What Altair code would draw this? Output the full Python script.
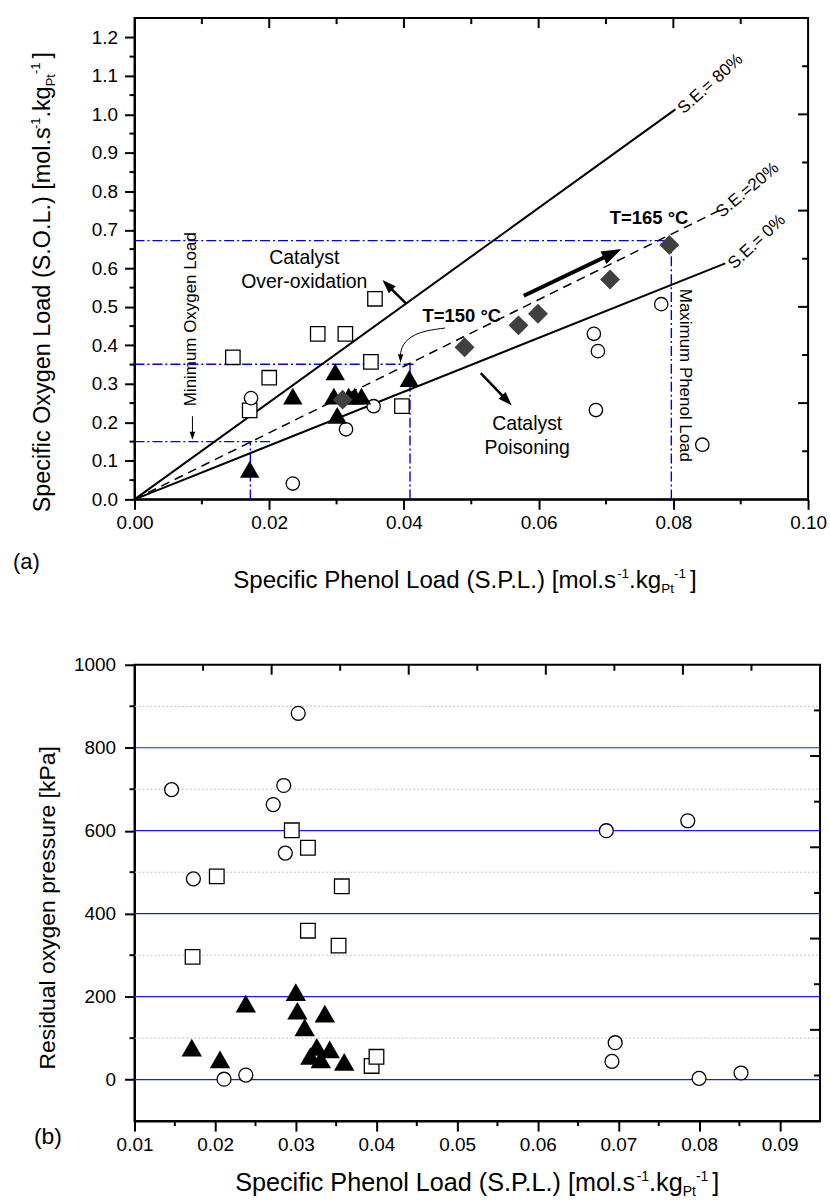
import math
import altair as alt
import pandas as pd

FONT = "Liberation Sans"

# ======================= panel (a) data =======================
a_xticks = [0.00, 0.02, 0.04, 0.06, 0.08, 0.10]
a_yticks = [0.0, 0.1, 0.2, 0.3, 0.4, 0.5, 0.6, 0.7, 0.8, 0.9, 1.0, 1.1, 1.2]
a_xminor = [0.01, 0.03, 0.05, 0.07, 0.09]
a_yminor = [0.05, 0.15, 0.25, 0.35, 0.45, 0.55, 0.65, 0.75, 0.85, 0.95, 1.05, 1.15]
a_top_long = [0.02, 0.04, 0.06, 0.08]
a_top_short = [0.01, 0.03, 0.05, 0.07, 0.09]
a_right_long = [0.25, 0.50, 0.75, 1.00]
a_right_short = [0.125, 0.375, 0.625, 0.875, 1.125]

a_sq_x = [0.0146, 0.0200, 0.0171, 0.0272, 0.0313, 0.0357, 0.0351, 0.0397]
a_sq_y = [0.369, 0.316, 0.231, 0.430, 0.430, 0.521, 0.357, 0.242]
a_ci_x = [0.0173, 0.0314, 0.0355, 0.0235, 0.0782, 0.0682, 0.0688, 0.0685, 0.0843]
a_ci_y = [0.263, 0.182, 0.242, 0.041, 0.507, 0.430, 0.385, 0.232, 0.142]
a_tr_x = [0.0171, 0.0235, 0.0298, 0.0296, 0.0318, 0.0327, 0.0337, 0.0301, 0.0408]
a_tr_y = [0.078, 0.268, 0.331, 0.268, 0.268, 0.268, 0.268, 0.218, 0.314]
a_di_x = [0.0309, 0.0490, 0.0570, 0.0599, 0.0706, 0.0794]
a_di_y = [0.259, 0.395, 0.452, 0.482, 0.571, 0.661]

# selectivity lines (origin -> end)
se_solid_name = ["80", "80", "0", "0"]
se_solid_x = [0.0, 0.0803, 0.0, 0.0877]
se_solid_y = [0.0, 1.013, 0.0, 0.613]
se20_x = [0.0, 0.0870]
se20_y = [0.0, 0.752]

# blue dash-dot guide lines
g_x1 = [0.0, 0.0, 0.0, 0.0797, 0.0409, 0.0172]
g_y1 = [0.672, 0.351, 0.150, 0.0, 0.0, 0.0]
g_x2 = [0.0797, 0.0417, 0.0205, 0.0797, 0.0409, 0.0172]
g_y2 = [0.672, 0.351, 0.150, 0.672, 0.351, 0.150]

# straight arrows (tail -> head)
arr_x1 = [0.0404, 0.0514, 0.0578, 0.0086]
arr_y1 = [0.507, 0.328, 0.529, 0.216]
arr_x2 = [0.0368, 0.0560, 0.0723, 0.0086]
arr_y2 = [0.570, 0.244, 0.650, 0.155]
# curved arrow (T=150 -> guide)
curve_x = [0.0461, 0.0422, 0.0400, 0.0394, 0.0395]
curve_y = [0.445, 0.436, 0.410, 0.380, 0.356]

ann_txt = ["Catalyst", "Over-oxidation", "Catalyst", "Poisoning"]
ann_x = [0.0252, 0.0252, 0.0583, 0.0583]
ann_y = [0.626, 0.565, 0.196, 0.134]
temp_txt = ["T=150 °C", "T=165 °C"]
temp_x = [0.0486, 0.0764]
temp_y = [0.477, 0.730]
se_lbl = ["S.E.= 80%", "S.E.=20%", "S.E.= 0%"]
se_lbl_x = [0.0855, 0.0910, 0.0924]
se_lbl_y = [1.079, 0.803, 0.669]
side_lbl = ["Maximum Phenol Load", "Minimum Oxygen Load"]
side_x = [0.0817, 0.0084]
side_y = [0.322, 0.468]

# ======================= panel (b) data =======================
b_xticks = [0.01, 0.02, 0.03, 0.04, 0.05, 0.06, 0.07, 0.08, 0.09]
b_yticks = [0, 200, 400, 600, 800, 1000]
b_xminor = [0.015, 0.025, 0.035, 0.045, 0.055, 0.065, 0.075, 0.085]
b_yminor = [100, 300, 500, 700, 900]
b_grid_major = [0, 200, 400, 600, 800]
b_grid_minor = [100, 300, 500, 700, 900]

b_ci_x = [0.0146, 0.0173, 0.0272, 0.0285, 0.0287, 0.0303, 0.0685, 0.0786,
          0.0211, 0.0238, 0.0692, 0.0696, 0.0800, 0.0852]
b_ci_y = [699, 484, 663, 709, 546, 883, 600, 624, 1, 11, 44, 89, 3, 16]
b_sq_x = [0.0295, 0.0315, 0.0202, 0.0357, 0.0315, 0.0353, 0.0172, 0.0394, 0.0400]
b_sq_y = [601, 559, 490, 466, 359, 323, 296, 33, 55]
b_tr_x = [0.0171, 0.0206, 0.0238, 0.0300, 0.0302, 0.0336, 0.0311, 0.0326,
          0.0318, 0.0331, 0.0342, 0.0360]
b_tr_y = [77, 49, 183, 211, 166, 159, 126, 79, 57, 49, 73, 43]

# ======================= helpers =======================
W_A, H_A = 676, 483
W_B, H_B = 688, 458
XA_DOM, YA_DOM = [0.0, 0.1], [0.0, 1.25]
XB_DOM, YB_DOM = [0.01, 0.095], [-100, 1000]

ARIAL = {' ': 278, '(': 333, ')': 333, '[': 278, ']': 278, '.': 278, '-': 333,
         'S': 667, 'P': 667, 'L': 556, 'O': 778, 'E': 667, 'T': 611, 'C': 722,
         'M': 833, 'R': 722, 'a': 556, 'c': 500, 'd': 556, 'e': 556, 'f': 278,
         'g': 556, 'h': 556, 'i': 222, 'k': 500, 'l': 222, 'm': 833, 'n': 556,
         'o': 556, 'p': 556, 'r': 333, 's': 500, 't': 278, 'u': 556, 'x': 500,
         'y': 500}


def tw(s, fs):
    return sum(ARIAL.get(c, 556) for c in s) * fs / 1000.0


def rich_h(pieces, x0, y0):
    rows, x = [], x0
    for txt, fs, rise, gap in pieces:
        x += gap
        rows.append({"px": x, "py": y0 - rise, "t": txt, "fs": fs, "ang": 0})
        x += tw(txt, fs)
    return rows


def rich_v(pieces, x0, y0):
    rows, y = [], y0
    for txt, fs, rise, gap in pieces:
        y -= gap
        rows.append({"px": x0 - rise, "py": y, "t": txt, "fs": fs, "ang": 270})
        y -= tw(txt, fs)
    return rows


def rich_layer(rows):
    return alt.Chart(pd.DataFrame(rows)).mark_text(
        align="left", baseline="alphabetic", font=FONT, color="black"
    ).encode(
        x=alt.X("px:Q", scale=None), y=alt.Y("py:Q", scale=None), text="t:N",
        size=alt.Size("fs:Q", scale=None), angle=alt.Angle("ang:Q", scale=None))


def make_axis(values, fmt, pad, flush):
    return alt.Axis(values=values, format=fmt, title=None, grid=False,
                    labelFont=FONT, labelFontSize=19, labelColor="black",
                    labelPadding=pad, labelFlush=flush, tickSize=10, tickWidth=2,
                    tickColor="black", domainWidth=2, domainColor="black")


def XA(f):
    return alt.X(f"{f}:Q", scale=alt.Scale(domain=XA_DOM, nice=False, zero=False),
                 axis=make_axis(a_xticks, ".2f", 4, False))


def YA(f):
    return alt.Y(f"{f}:Q", scale=alt.Scale(domain=YA_DOM, nice=False, zero=False),
                 axis=make_axis(a_yticks, ".1f", 7, False))


def XB(f):
    return alt.X(f"{f}:Q", scale=alt.Scale(domain=XB_DOM, nice=False, zero=False),
                 axis=make_axis(b_xticks, ".2f", 4, False))


def YB(f):
    return alt.Y(f"{f}:Q", scale=alt.Scale(domain=YB_DOM, nice=False, zero=False),
                 axis=make_axis(b_yticks, "d", 9, False))


HEAD = "M0,0L0.7,2L-0.7,2Z"


def arrow_geom(x1, y1, x2, y2, sx, sy, L):
    dx, dy = (x2 - x1) * sx, -(y2 - y1) * sy
    n = math.hypot(dx, dy)
    ang = math.degrees(math.atan2(dx, -dy)) % 360
    back = 0.6 * L / n
    ex = x2 - (x2 - x1) * back
    ey = y2 - (y2 - y1) * back
    return ang, ex, ey


def ticks_rule(df_field, vals, XF, y0, y1):
    return alt.Chart(pd.DataFrame({df_field: vals})).mark_rule(
        color="black", strokeWidth=2).encode(x=XF(df_field), y=alt.value(y0), y2=alt.value(y1))


def yticks_rule(df_field, vals, YF, x0, x1):
    return alt.Chart(pd.DataFrame({df_field: vals})).mark_rule(
        color="black", strokeWidth=2).encode(y=YF(df_field), x=alt.value(x0), x2=alt.value(x1))


# ======================= panel (a) =======================
sxA = W_A / (XA_DOM[1] - XA_DOM[0])
syA = H_A / (YA_DOM[1] - YA_DOM[0])

guides = alt.Chart(pd.DataFrame({"x1": g_x1, "y1": g_y1, "x2": g_x2, "y2": g_y2})).mark_rule(
    color="#0000dd", strokeWidth=1.4, strokeDash=[10, 3, 2, 3]
).encode(x=XA("x1"), y=YA("y1"), x2="x2:Q", y2="y2:Q")

se_solid = alt.Chart(pd.DataFrame({"n": se_solid_name, "x": se_solid_x, "y": se_solid_y})).mark_line(
    color="black", strokeWidth=2).encode(x=XA("x"), y=YA("y"), detail="n:N")
se_dash = alt.Chart(pd.DataFrame({"x": se20_x, "y": se20_y})).mark_line(
    color="black", strokeWidth=1.5, strokeDash=[9, 6]).encode(x=XA("x"), y=YA("y"))

sq_a = alt.Chart(pd.DataFrame({"x": a_sq_x, "y": a_sq_y})).mark_point(
    shape="square", filled=True, fill="white", stroke="black", strokeWidth=1.3, size=210, opacity=1
).encode(x=XA("x"), y=YA("y"))
ci_a = alt.Chart(pd.DataFrame({"x": a_ci_x, "y": a_ci_y})).mark_point(
    shape="circle", filled=True, fill="white", stroke="black", strokeWidth=1.3, size=180, opacity=1
).encode(x=XA("x"), y=YA("y"))
tr_a = alt.Chart(pd.DataFrame({"x": a_tr_x, "y": a_tr_y})).mark_point(
    shape="triangle-up", filled=True, color="black", size=380, opacity=1
).encode(x=XA("x"), y=YA("y"))
di_a = alt.Chart(pd.DataFrame({"x": a_di_x, "y": a_di_y})).mark_point(
    shape="diamond", filled=True, color="#404040", size=400, opacity=1
).encode(x=XA("x"), y=YA("y"))

# arrows
arrow_w = [2.5, 2.5, 4.0, 1.0]
arrow_L = [14, 14, 20, 8]
arrow_layers = []
for i in range(len(arr_x1)):
    ang, ex, ey = arrow_geom(arr_x1[i], arr_y1[i], arr_x2[i], arr_y2[i], sxA, syA, arrow_L[i])
    shaft = alt.Chart(pd.DataFrame({"x": [arr_x1[i]], "y": [arr_y1[i]], "x2": [ex], "y2": [ey]})).mark_rule(
        color="black", strokeWidth=arrow_w[i]).encode(x=XA("x"), y=YA("y"), x2="x2:Q", y2="y2:Q")
    head = alt.Chart(pd.DataFrame({"x": [arr_x2[i]], "y": [arr_y2[i]], "a": [ang]})).mark_point(
        shape=HEAD, filled=True, color="black", size=arrow_L[i] ** 2, opacity=1, strokeWidth=0
    ).encode(x=XA("x"), y=YA("y"), angle=alt.Angle("a:Q", scale=None))
    arrow_layers += [shaft, head]

curve = alt.Chart(pd.DataFrame({"x": curve_x, "y": curve_y, "o": list(range(len(curve_x)))})).mark_line(
    color="black", strokeWidth=1, interpolate="basis").encode(x=XA("x"), y=YA("y"), order="o:Q")
curve_head = alt.Chart(pd.DataFrame({"x": [curve_x[-1]], "y": [curve_y[-1]], "a": [180]})).mark_point(
    shape=HEAD, filled=True, color="black", size=64, opacity=1, strokeWidth=0
).encode(x=XA("x"), y=YA("y"), angle=alt.Angle("a:Q", scale=None))

ann = alt.Chart(pd.DataFrame({"x": ann_x, "y": ann_y, "t": ann_txt})).mark_text(
    font=FONT, fontSize=19.5, color="black", align="center", baseline="middle"
).encode(x=XA("x"), y=YA("y"), text="t:N")
temps = alt.Chart(pd.DataFrame({"x": temp_x, "y": temp_y, "t": temp_txt})).mark_text(
    font=FONT, fontSize=18.5, fontWeight="bold", color="black", align="center", baseline="middle"
).encode(x=XA("x"), y=YA("y"), text="t:N")
se_angles = [318, 320, 317]
se_text = alt.Chart(pd.DataFrame({"x": se_lbl_x, "y": se_lbl_y, "t": se_lbl, "a": se_angles})).mark_text(
    font=FONT, fontSize=17, color="black", align="center", baseline="middle"
).encode(x=XA("x"), y=YA("y"), text="t:N", angle=alt.Angle("a:Q", scale=None))
side_angles = [90, 270]
side_text = alt.Chart(pd.DataFrame({"x": side_x, "y": side_y, "t": side_lbl, "a": side_angles})).mark_text(
    font=FONT, fontSize=17, color="black", align="center", baseline="middle"
).encode(x=XA("x"), y=YA("y"), text="t:N", angle=alt.Angle("a:Q", scale=None))

a_ticks = [
    ticks_rule("tx", a_xminor, XA, H_A, H_A + 5),
    ticks_rule("tx", a_top_long, XA, 0, 10),
    ticks_rule("tx", a_top_short, XA, 0, 6),
    yticks_rule("ty", a_yminor, YA, -5, 0),
    yticks_rule("ty", a_right_long, YA, W_A - 10, W_A),
    yticks_rule("ty", a_right_short, YA, W_A - 6, W_A),
]

title_pieces_a = [("Specific Phenol Load (S.P.L.) [mol.s", 24.2, 0, 0), ("-1", 13.5, 10, -2),
                  (".kg", 24.2, 0, 0), ("Pt", 13.5, -5, 0), ("-1", 13.5, 10, 0), ("]", 24.2, 0, 4)]
ytitle_pieces_a = [("Specific Oxygen Load (S.O.L.) [mol.s", 23.5, 0, 0), ("-1", 13, 10, -2),
                   (".kg", 23.5, 0, 0), ("Pt", 13, -5, 0), ("-1", 13, 10, 0), ("]", 23.5, 0, 4)]
rows_a = rich_h(title_pieces_a, 99, 572) + rich_v(ytitle_pieces_a, -84.7, 496)
rows_a.append({"px": -122, "py": 553, "t": "(a)", "fs": 22, "ang": 0})

panel_a = alt.layer(
    guides, se_solid, se_dash, *arrow_layers, curve, curve_head,
    sq_a, ci_a, tr_a, di_a, ann, temps, se_text, side_text, *a_ticks, rich_layer(rows_a)
).properties(width=W_A, height=H_A)

# ======================= panel (b) =======================
grid_major = alt.Chart(pd.DataFrame({"g": b_grid_major})).mark_rule(
    color="#1a1aff", strokeWidth=1.2).encode(y=YB("g"), x=alt.value(0), x2=alt.value(W_B))
grid_minor = alt.Chart(pd.DataFrame({"g": b_grid_minor})).mark_rule(
    color="#c0c0c0", strokeWidth=1, strokeDash=[2, 2]).encode(y=YB("g"), x=alt.value(0), x2=alt.value(W_B))

ci_b = alt.Chart(pd.DataFrame({"x": b_ci_x, "y": b_ci_y})).mark_point(
    shape="circle", filled=True, fill="white", stroke="black", strokeWidth=1.3, size=195, opacity=1
).encode(x=XB("x"), y=YB("y"))
sq_b = alt.Chart(pd.DataFrame({"x": b_sq_x, "y": b_sq_y})).mark_point(
    shape="square", filled=True, fill="white", stroke="black", strokeWidth=1.3, size=215, opacity=1
).encode(x=XB("x"), y=YB("y"))
tr_b = alt.Chart(pd.DataFrame({"x": b_tr_x, "y": b_tr_y})).mark_point(
    shape="triangle-up", filled=True, color="black", size=420, opacity=1
).encode(x=XB("x"), y=YB("y"))

b_top_all = [XB_DOM[0] + k * (XB_DOM[1] - XB_DOM[0]) / 10 for k in range(1, 10)]
b_right_all = [YB_DOM[0] + k * (YB_DOM[1] - YB_DOM[0]) / 10 for k in range(1, 10)]
b_ticks = [
    ticks_rule("tx", b_xminor, XB, H_B, H_B + 5),
    ticks_rule("tx", b_top_all[1::2], XB, 0, 10),
    ticks_rule("tx", b_top_all[0::2], XB, 0, 6),
    yticks_rule("ty", b_yminor, YB, -5, 0),
    yticks_rule("ty", b_right_all[1::2], YB, W_B - 10, W_B),
    yticks_rule("ty", b_right_all[0::2], YB, W_B - 6, W_B),
]

title_pieces_b = [("Specific Phenol Load (S.P.L.) [mol.s", 25.3, 0, 0), ("-1", 14, 10, -2),
                  (".kg", 25.3, 0, 0), ("Pt", 14, -5, 0), ("-1", 14, 10, 0), ("]", 25.3, 0, 4)]
rows_b = rich_h(title_pieces_b, 101, 528)
rows_b.append({"px": -101, "py": 481, "t": "(b)", "fs": 23, "ang": 0})

ytitle_b = alt.Chart(pd.DataFrame({"t": ["Residual oxygen pressure [kPa]"]})).mark_text(
    font=FONT, fontSize=23, color="black", align="center", baseline="middle", angle=270
).encode(text="t:N", x=alt.value(-87), y=alt.value(244))

panel_b = alt.layer(
    grid_minor, grid_major, sq_b, ci_b, tr_b, *b_ticks, rich_layer(rows_b), ytitle_b
).properties(width=W_B, height=H_B)

chart = alt.vconcat(panel_a, panel_b, spacing=58).configure(
    font=FONT, padding={"left": 12, "top": 14, "right": 2, "bottom": 0}, background="white"
).configure_view(stroke="black", strokeWidth=2)

chart.save("out.html", embed_options={"renderer": "svg", "actions": False})
